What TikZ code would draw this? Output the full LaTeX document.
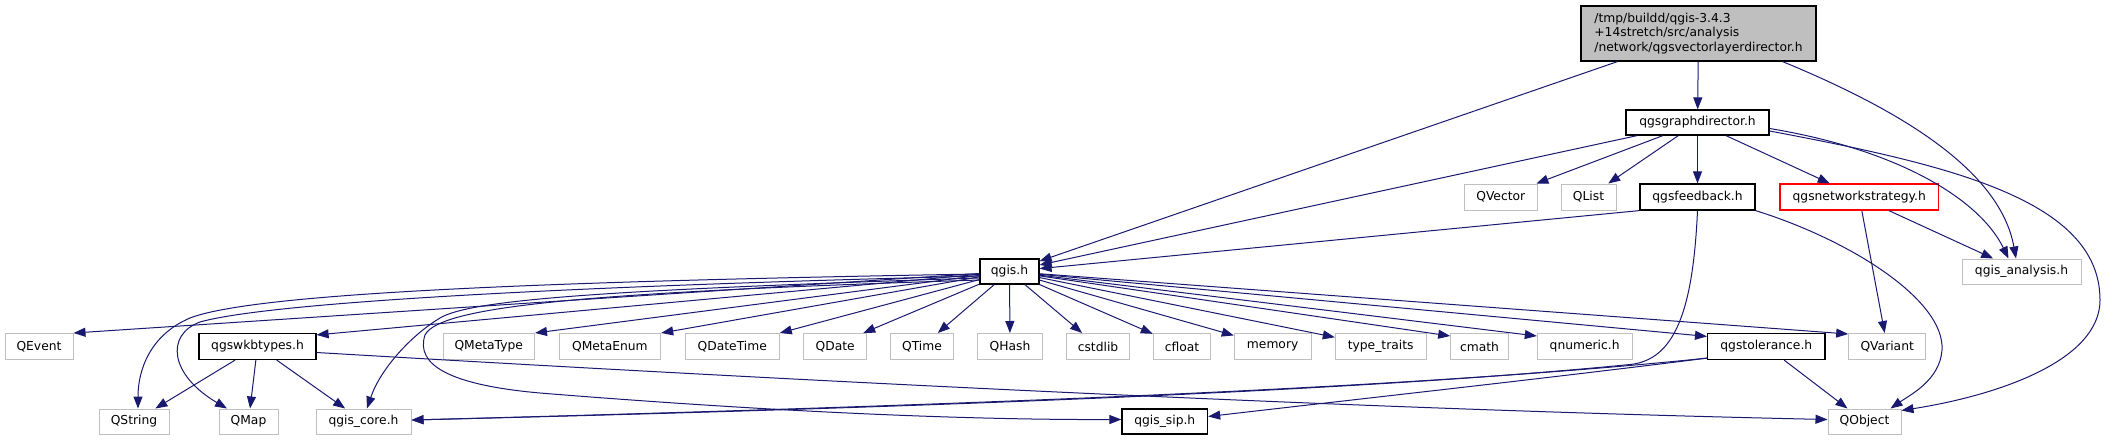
\documentclass[tikz,border=0pt]{standalone}
\usepackage{fontspec}
\setmainfont{DejaVu Sans}
\usetikzlibrary{arrows.meta,calc}
\definecolor{edgeblue}{RGB}{25,25,112}
\definecolor{extgray}{RGB}{191,191,191}
\definecolor{rootfill}{RGB}{191,191,191}
\definecolor{redline}{RGB}{255,0,0}
\tikzset{
  box/.style={rectangle, inner sep=0pt, text=black, font=\fontsize{12.3}{14.3}\selectfont},
  ext/.style={box, draw=extgray, line width=1pt},
  int/.style={box, draw=black, line width=1.2pt},
  redbox/.style={box, draw=redline, line width=1.2pt},
  rootbox/.style={box, draw=black, fill=rootfill, line width=1.2pt, align=left},
  dep/.style={draw=edgeblue, line width=1pt, -{Triangle[length=12pt,width=9pt]}},
}
\begin{document}
\begin{tikzpicture}[x=1pt,y=-1pt]
\useasboundingbox (0,0) rectangle (2107,440);
% nodes
\node[rootbox, minimum width=235pt, minimum height=55pt] (root) at (1698.5,33.5) {/tmp/buildd/qgis-3.4.3\\+14stretch/src/analysis\\/network/qgsvectorlayerdirector.h};
\node[int, minimum width=143pt, minimum height=25pt] (gd) at (1697.5,122.5) {qgsgraphdirector.h};
\node[ext, minimum width=73.5pt, minimum height=26pt] (qvector) at (1500.75,197) {QVector};
\node[ext, minimum width=55pt, minimum height=26pt] (qlist) at (1588.5,197) {QList};
\node[int, minimum width=115pt, minimum height=26pt] (fb) at (1697.5,197) {qgsfeedback.h};
\node[redbox, minimum width=158.5pt, minimum height=26pt] (ns) at (1859.25,197) {qgsnetworkstrategy.h};
\node[int, minimum width=59pt, minimum height=25pt] (qgis) at (1009.5,271.5) {qgis.h};
\node[ext, minimum width=119pt, minimum height=25pt] (analysis) at (2021.5,271.5) {qgis\_analysis.h};
% row 3
\node[ext, minimum width=68pt, minimum height=26pt] (qevent) at (39,346.5) {QEvent};
\node[int, minimum width=117pt, minimum height=26pt] (wkb) at (257.5,346.5) {qgswkbtypes.h};
\node[ext, minimum width=91.5pt, minimum height=26pt] (metatype) at (488.75,346.5) {QMetaType};
\node[ext, minimum width=101.7pt, minimum height=26pt] (metaenum) at (609.85,346.5) {QMetaEnum};
\node[ext, minimum width=94pt, minimum height=26pt] (datetime) at (732.3,346.5) {QDateTime};
\node[ext, minimum width=63pt, minimum height=26pt] (qdate) at (835.2,346.5) {QDate};
\node[ext, minimum width=62.6pt, minimum height=26pt] (qtime) at (922,346.5) {QTime};
\node[ext, minimum width=65.4pt, minimum height=26pt] (qhash) at (1010,346.5) {QHash};
\node[ext, minimum width=62.6pt, minimum height=26pt] (cstdlib) at (1098,346.5) {cstdlib};
\node[ext, minimum width=57.4pt, minimum height=26pt] (cfloat) at (1182,346.5) {cfloat};
\node[ext, minimum width=76.7pt, minimum height=26pt] (memory) at (1272.65,346.5) {memory};
\node[ext, minimum width=90.7pt, minimum height=26pt] (typetraits) at (1380.65,346.5) {type\_traits};
\node[ext, minimum width=57.6pt, minimum height=26pt] (cmath) at (1479.5,346.5) {cmath};
\node[ext, minimum width=94.7pt, minimum height=26pt] (qnumeric) at (1584.65,346.5) {qnumeric.h};
\node[int, minimum width=117.4pt, minimum height=26pt] (tolerance) at (1766.3,346.5) {qgstolerance.h};
\node[ext, minimum width=77pt, minimum height=26pt] (qvariant) at (1887.2,346.5) {QVariant};
% row 4
\node[ext, minimum width=70pt, minimum height=25pt] (qstring) at (134,421.5) {QString};
\node[ext, minimum width=59pt, minimum height=25pt] (qmap) at (248.5,421.5) {QMap};
\node[ext, minimum width=95pt, minimum height=25pt] (core) at (363.5,421.5) {qgis\_core.h};
\node[int, minimum width=85.6pt, minimum height=25pt] (sip) at (1164.8,421.5) {qgis\_sip.h};
\node[ext, minimum width=73pt, minimum height=25pt] (qobject) at (1864.5,421.5) {QObject};

% root edges
\draw[dep] (root) -- (qgis);
\draw[dep] (root) -- (gd);
\draw[dep] ([xshift=-34pt]root.south east) .. controls (1900,110) and (2000,170) .. ([xshift=-5.5pt]analysis.north);
% qgsgraphdirector edges
\draw[dep] (gd) -- (qgis);
\draw[dep] (gd) -- (qvector);
\draw[dep] (gd) -- (qlist);
\draw[dep] (gd) -- (fb);
\draw[dep] (gd) -- (ns);
\draw[dep] ([yshift=-6pt]gd.east) .. controls (1900,150) and (1980,200) .. ([xshift=-13pt]analysis.north);
\draw[dep] ([yshift=-8.5pt]gd.east) .. controls (1950,165) and (2100,200) .. (2100,300) .. controls (2100,360) and (2000,395) .. ([yshift=-2pt]qobject.north east);
% qgsfeedback edges
\draw[dep] (fb.south west) -- (qgis);
\draw[dep] (fb.south east) .. controls (1850,240) and (1945,300) .. (1942,350) .. controls (1940,380) and (1910,395) .. ([xshift=-11pt]qobject.north east);
\draw[dep] (fb.south) .. controls (1693,310) and (1675,360) .. (1630,364.5) .. controls (1350,392) and (900,408) .. ([yshift=1.5pt]core.east);
% qgsnetworkstrategy edges
\draw[dep] (ns) -- (qvariant);
\draw[dep] (ns) -- (analysis);
% qgis.h fan
\draw[dep] (qgis) -- (qevent.north east);
\draw[dep] (qgis) -- ([yshift=-2pt]wkb.north east);
\draw[dep] (qgis) -- (metatype.north east);
\draw[dep] (qgis) -- (metaenum.north east);
\draw[dep] (qgis) -- (datetime.north east);
\draw[dep] (qgis) -- ([xshift=-4pt]qdate.north east);
\draw[dep] (qgis) -- (qtime);
\draw[dep] (qgis) -- (qhash);
\draw[dep] (qgis) -- (cstdlib);
\draw[dep] (qgis) -- (cfloat);
\draw[dep] (qgis) -- (memory);
\draw[dep] (qgis) -- (typetraits);
\draw[dep] (qgis) -- ([yshift=-3pt]cmath.north west);
\draw[dep] (qgis) -- ([yshift=-3pt]qnumeric.north west);
\draw[dep] (qgis) -- ([yshift=-3.5pt]tolerance.north west);
\draw[dep] (qgis) -- ([yshift=-1pt]qvariant.north west);
\draw[dep] ([yshift=-2.5pt]qgis.west) .. controls (500,282) and (250,295) .. (190,318) .. controls (150,335) and (138,370) .. ([xshift=4pt]qstring.north);
\draw[dep] ([yshift=-4.5pt]qgis.west) .. controls (500,288) and (260,305) .. (200,322) .. controls (165,335) and (170,375) .. ([xshift=-21.5pt]qmap.north);
\draw[dep] ([yshift=-6.5pt]qgis.west) .. controls (600,290) and (470,300) .. (440,318) .. controls (410,336) and (380,370) .. ([xshift=3.5pt]core.north);
\draw[dep] ([yshift=-8.5pt]qgis.west) .. controls (600,292) and (440,305) .. (425,335) .. controls (415,365) and (450,385) .. (540,393) .. controls (750,410) and (950,420) .. ([yshift=2pt]sip.west);
% qgswkbtypes edges
\draw[dep] (wkb) -- (qstring);
\draw[dep] (wkb) -- (qmap);
\draw[dep] (wkb) -- (core);
\draw[dep] ([yshift=-6pt]wkb.east) .. controls (700,375) and (1300,408) .. ([yshift=2pt]qobject.west);
% qgstolerance edges
\draw[dep] ([yshift=2pt]tolerance.south west) .. controls (1400,390) and (900,407) .. ([yshift=1.5pt]core.east);
\draw[dep] ([yshift=2pt]tolerance.south west) .. controls (1550,378) and (1350,400) .. ([yshift=5pt]sip.east);
\draw[dep] (tolerance) -- (qobject);
\end{tikzpicture}
\end{document}
